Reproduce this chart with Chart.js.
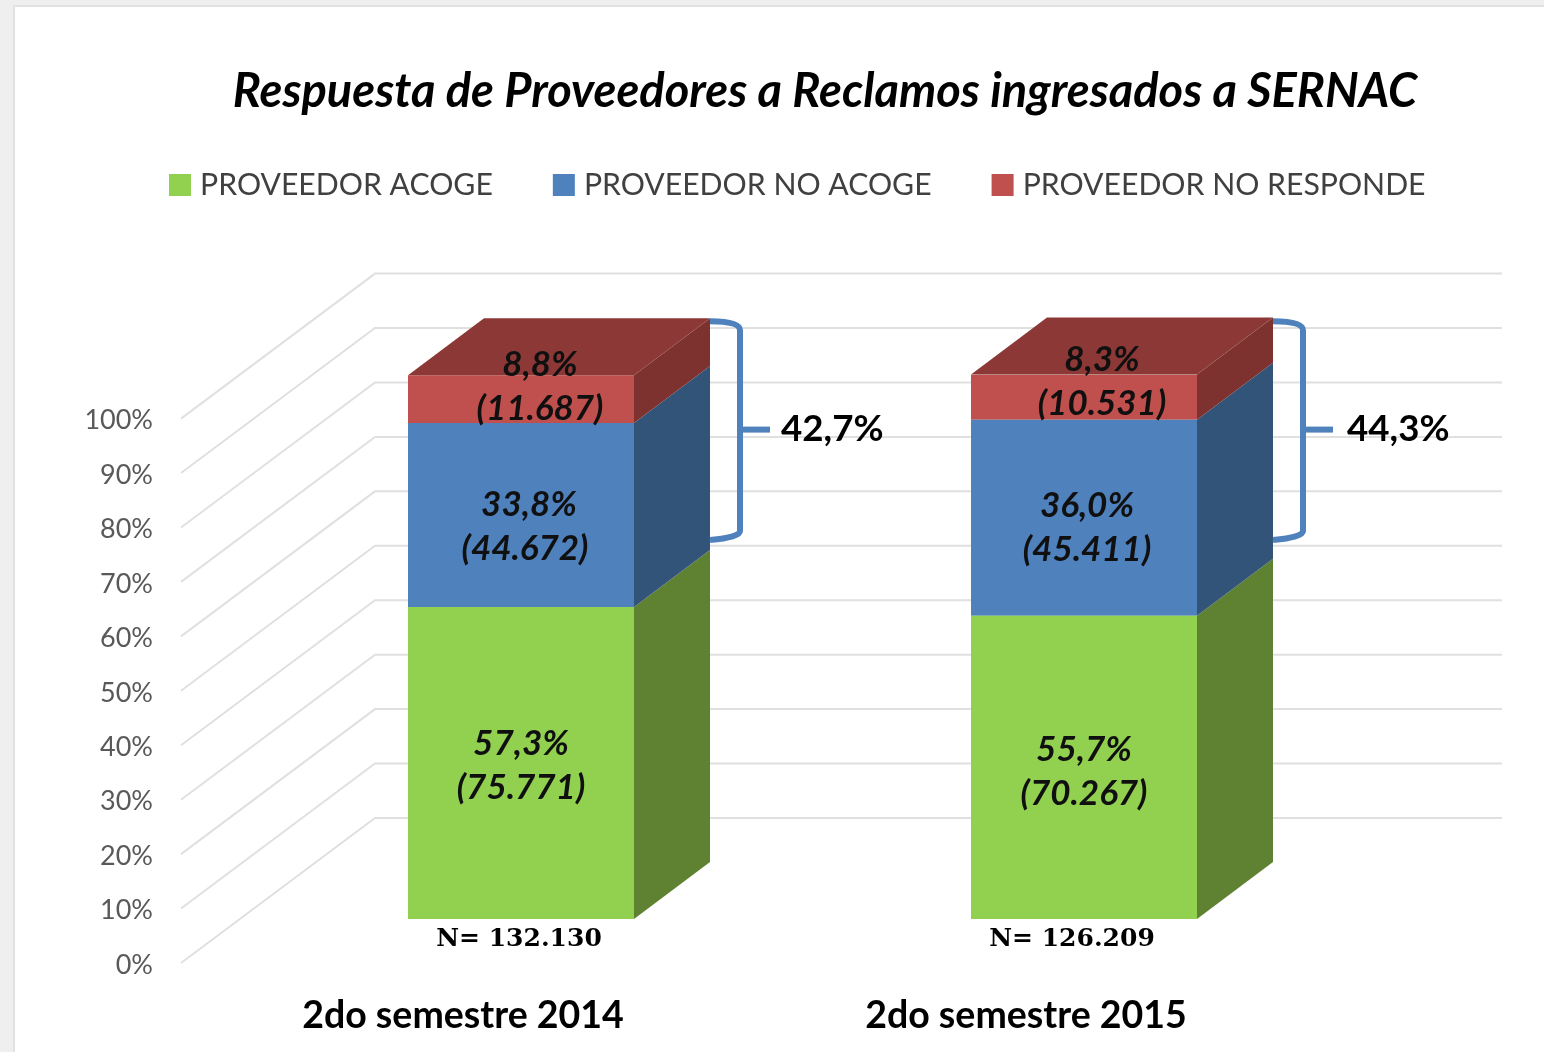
<!DOCTYPE html>
<html lang="es">
<head>
<meta charset="utf-8">
<title>Respuesta de Proveedores</title>
<style>
html,body{margin:0;padding:0;width:1544px;height:1052px;overflow:hidden;background:#efefef}
#panel{position:absolute;left:13px;top:5px;width:1531px;height:1047px;background:#fff;border-left:2px solid #e2e2e2;border-top:2px solid #e2e2e2;box-sizing:border-box}
canvas{position:absolute;left:0;top:0;display:block;filter:blur(0.6px)}
</style>
<script src="https://cdn.jsdelivr.net/npm/chart.js@4/dist/chart.umd.min.js"></script>
</head>
<body>
<div id="panel"></div>
<canvas id="c" width="1544" height="1052"></canvas>
<script>
const chartTitle = 'Respuesta de Proveedores a Reclamos ingresados a SERNAC';
const categories = ['2do semestre 2014', '2do semestre 2015'];
const seriesNames = ['PROVEEDOR ACOGE', 'PROVEEDOR NO ACOGE', 'PROVEEDOR NO RESPONDE'];
const acoge = [57.3, 55.7];
const noAcoge = [33.8, 36.0];
const noResponde = [8.8, 8.3];
const acogeCounts = ['75.771', '70.267'];
const noAcogeCounts = ['44.672', '45.411'];
const noRespondeCounts = ['11.687', '10.531'];
const totals = ['N= 132.130', 'N= 126.209'];
const bracketLabels = ['42,7%', '44,3%'];

const frontColors = ['#92d050', '#4f81bd', '#c0504d'];
const sideColors = ['#5f8232', '#335479', '#7d3230'];
const topColor = '#8c3836';
const TEXT_GREY = '#595959';
const DEPTH_X = 76, DEPTH_Y = -57;
const FONT = 'Lato, Carlito, Calibri, sans-serif';

const labelOffsets = [
  [[[0, -19], [0, 25]], [[0, -18], [0, 26]]],
  [[[8, -10], [4, 34]], [[3, -12], [3, 32]]],
  [[[19, -34], [19, 10]], [[18, -37], [18, 7]]]
];

const fmt = v => v.toFixed(1).replace('.', ',') + '%';

const depth3d = {
  id: 'depth3d',
  afterLayout(chart) {
    const l = chart.legend;
    const h = l.bottom - l.top;
    l.left = 109;
    l.top = 104;
    l.bottom = l.top + h;
    chart.scales.y.left = 60;
  },
  beforeDatasetsDraw(chart) {
    const { ctx, scales: { y } } = chart;
    ctx.save();
    ctx.strokeStyle = '#e0e0e0';
    ctx.lineWidth = 2;
    y.ticks.forEach(t => {
      const py = y.getPixelForValue(t.value);
      ctx.beginPath();
      ctx.moveTo(181, py + 44);
      ctx.lineTo(375, py - 101);
      ctx.lineTo(1502, py - 101);
      ctx.stroke();
    });
    ctx.restore();
  },
  afterDatasetsDraw(chart) {
    const { ctx, scales: { y } } = chart;
    const metas = chart.data.datasets.map((d, i) => chart.getDatasetMeta(i));
    ctx.save();
    metas.forEach((meta, s) => {
      meta.data.forEach(bar => {
        const r = bar.x + bar.width / 2;
        const l = bar.x - bar.width / 2;
        ctx.fillStyle = sideColors[s];
        ctx.beginPath();
        ctx.moveTo(r, bar.base);
        ctx.lineTo(r + DEPTH_X, bar.base + DEPTH_Y);
        ctx.lineTo(r + DEPTH_X, bar.y + DEPTH_Y);
        ctx.lineTo(r, bar.y);
        ctx.closePath();
        ctx.fill();
        if (s === metas.length - 1) {
          ctx.fillStyle = topColor;
          ctx.beginPath();
          ctx.moveTo(l, bar.y);
          ctx.lineTo(l + DEPTH_X, bar.y + DEPTH_Y);
          ctx.lineTo(r + DEPTH_X, bar.y + DEPTH_Y);
          ctx.lineTo(r, bar.y);
          ctx.closePath();
          ctx.fill();
        }
      });
    });

    // brackets
    metas[2].data.forEach((bar, i) => {
      const x0 = bar.x + bar.width / 2 + DEPTH_X;
      const x1 = x0 + 30;
      const top = y.getPixelForValue(110), bottom = y.getPixelForValue(69.6), mid = y.getPixelForValue(89.9);
      ctx.strokeStyle = '#4f81bd';
      ctx.lineWidth = 6;
      ctx.lineJoin = 'round';
      ctx.beginPath();
      ctx.moveTo(x0, top + 1);
      ctx.quadraticCurveTo(x1, top + 1, x1, top + 10);
      ctx.lineTo(x1, bottom - 9);
      ctx.quadraticCurveTo(x1, bottom - 3, x0, bottom);
      ctx.stroke();
      ctx.beginPath();
      ctx.moveTo(x1, mid);
      ctx.lineTo(x1 + 30, mid);
      ctx.stroke();
      ctx.fillStyle = '#000';
      ctx.font = 'bold 36.7px ' + FONT;
      ctx.textAlign = 'left';
      ctx.textBaseline = 'middle';
      ctx.fillText(bracketLabels[i], x1 + 41 + i * 3, mid);
    });

    // segment labels
    const counts = [acogeCounts, noAcogeCounts, noRespondeCounts];
    ctx.textAlign = 'center';
    ctx.textBaseline = 'middle';
    ctx.fillStyle = '#101010';
    metas.forEach((meta, s) => {
      meta.data.forEach((bar, i) => {
        const cy = (bar.y + bar.base) / 2;
        const off = labelOffsets[s][i];
        ctx.font = 'italic bold 35px ' + FONT;
        ctx.fillText(fmt(chart.data.datasets[s].data[i]), bar.x + off[0][0], cy + off[0][1]);
        ctx.fillText('(' + counts[s][i] + ')', bar.x + off[1][0], cy + off[1][1]);
      });
    });

    // totals under the bars
    ctx.fillStyle = '#000';
    ctx.font = 'bold 25px "DejaVu Serif", serif';
    metas[0].data.forEach((bar, i) => {
      ctx.fillText(totals[i], bar.x - 2 - i * 10, y.getPixelForValue(0) + 20);
    });
    ctx.restore();
  }
};

new Chart(document.getElementById('c'), {
  type: 'bar',
  data: {
    labels: categories,
    datasets: [
      { label: seriesNames[0], data: acoge, backgroundColor: frontColors[0] },
      { label: seriesNames[1], data: noAcoge, backgroundColor: frontColors[1] },
      { label: seriesNames[2], data: noResponde, backgroundColor: frontColors[2] }
    ]
  },
  plugins: [depth3d],
  options: {
    responsive: false,
    animation: false,
    layout: { padding: { left: 106, right: 0, top: 0, bottom: 0 } },
    datasets: { bar: { barPercentage: 226 / 563, categoryPercentage: 1 } },
    plugins: {
      tooltip: { enabled: false },
      title: {
        display: true,
        text: chartTitle,
        color: '#000',
        font: { family: FONT, size: 47, weight: 'bold', style: 'italic', lineHeight: 1.2 },
        padding: { top: 64, bottom: 148 }
      },
      legend: {
        display: true,
        position: 'top',
        align: 'start',
        labels: {
          boxWidth: 10,
          boxHeight: 10,
          padding: 66,
          color: '#404040',
          font: { family: FONT, size: 30.2 },
          generateLabels: chart => chart.data.datasets.map((d, i) => ({
            text: d.label,
            fillStyle: frontColors[i],
            strokeStyle: frontColors[i],
            lineWidth: 12,
            fontColor: '#404040',
            datasetIndex: i,
            hidden: false
          }))
        }
      }
    },
    scales: {
      x: {
        stacked: true,
        grid: { display: false },
        border: { display: false },
        ticks: {
          color: '#000',
          font: { family: FONT, size: 37.5, weight: 'bold' },
          padding: 66,
          labelOffset: -58,
          maxRotation: 0
        },
        afterFit: s => { s.height = 133; }
      },
      y: {
        stacked: true,
        min: 0,
        max: 100,
        grid: { display: false, drawTicks: false },
        border: { display: false },
        ticks: {
          stepSize: 10,
          color: TEXT_GREY,
          font: { family: FONT, size: 27 },
          padding: 86.5,
          labelOffset: 46,
          callback: v => v + '%'
        },
        afterFit: s => { s.width = 133.5; }
      },
      yRight: {
        type: 'linear',
        position: 'right',
        display: true,
        grid: { display: false, drawTicks: false },
        border: { display: false },
        ticks: { display: false },
        afterFit: s => { s.width = 178.5; }
      }
    }
  }
});
</script>
</body>
</html>
